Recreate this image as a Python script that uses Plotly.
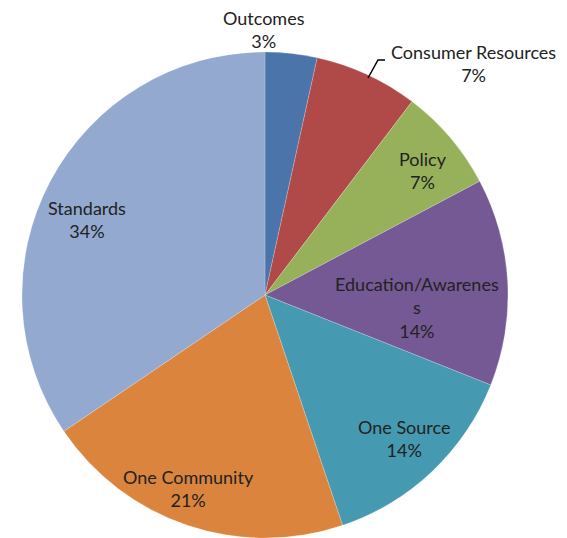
import plotly.graph_objects as go

# Count of items per category (shares shown as rounded percentages)
categories = ["Outcomes", "Consumer Resources", "Policy", "Education/Awareness",
              "One Source", "One Community", "Standards"]
counts = [1, 2, 2, 4, 4, 6, 10]
colors = ["#4A74AA", "#B04A48", "#96B15A", "#755994", "#4599B1", "#DB843D", "#93A9CF"]

W, H = 567, 538
cx, cy, r = 265, 295, 243

fig = go.Figure(go.Pie(
    labels=categories,
    values=counts,
    sort=False,
    direction="clockwise",
    rotation=0,
    marker=dict(colors=colors, line=dict(color="rgba(255,255,255,0.4)", width=0.5)),
    textinfo="none",
    hoverinfo="label+percent",
    domain=dict(x=[(cx - r) / W, (cx + r) / W], y=[(H - cy - r) / H, (H - cy + r) / H]),
    showlegend=False,
))

total = sum(counts)
# label anchor positions (pixels) for each category
label_pos = {
    "Outcomes": (264, 30),
    "Consumer Resources": (473, 64),
    "Policy": (423, 170),
    "Education/Awareness": (417, 307),
    "One Source": (404, 438),
    "One Community": (188, 488),
    "Standards": (87, 219),
}
wrapped = {"Education/Awareness": "Education/Awarenes<br>s"}

annotations = []
for name, v in zip(categories, counts):
    px, py = label_pos[name]
    text = f"{wrapped.get(name, name)}<br>{round(100 * v / total)}%"
    annotations.append(dict(
        x=px / W, y=1 - py / H, xref="paper", yref="paper",
        text=text, showarrow=False, xanchor="center", yanchor="middle",
        align="center",
        font=dict(family="Lato, 'Noto Sans', sans-serif", size=18, color="#222222"),
    ))

# leader line for the Consumer Resources label
pts = [(368, 78), (378, 60), (385, 60)]
path = "M " + " L ".join(f"{x / W},{1 - y / H}" for x, y in pts)
fig.add_shape(type="path", path=path, xref="paper", yref="paper",
              line=dict(color="black", width=1.5))

fig.update_layout(
    width=W, height=H,
    margin=dict(l=0, r=0, t=0, b=0),
    paper_bgcolor="white",
    plot_bgcolor="white",
    annotations=annotations,
)

fig.write_html("out.html")
